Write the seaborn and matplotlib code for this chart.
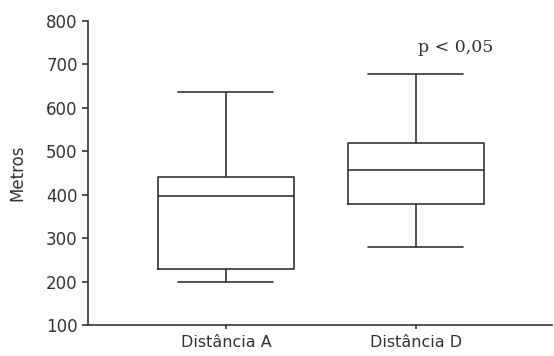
import pandas as pd
import matplotlib
matplotlib.use("Agg")
import matplotlib.pyplot as plt
import seaborn as sns

# five-number summaries (min, Q1, median, Q3, max)
grupos = ["Distância A", "Distância D"]
dist_a = [200, 230, 398, 440, 636]
dist_d = [279, 379, 458, 518, 679]
yticks = [100, 200, 300, 400, 500, 600, 700, 800]

df = pd.DataFrame({
    "grupo": [grupos[0]] * len(dist_a) + [grupos[1]] * len(dist_d),
    "metros": dist_a + dist_d,
})

sns.set_style("ticks")
plt.rcParams["font.family"] = ["DejaVu Sans"]
cor = "#333333"

fig = plt.figure(figsize=(5.54, 3.56), dpi=100)
ax = fig.add_axes([0.159, 0.087, 0.837, 0.854])

sns.boxplot(data=df, x="grupo", y="metros", ax=ax, fill=False, color=cor,
            width=0.715, whis=(0, 100), linewidth=1.2, capwidths=0.5)

ax.set_ylim(100, 800)
ax.set_xlim(-0.726, 1.716)
ax.set_yticks(yticks)
ax.set_xlabel("")
ax.set_ylabel("Metros", fontsize=12, color=cor, labelpad=14)
ax.tick_params(axis="both", labelsize=12, colors=cor, length=4, width=1.2)
ax.tick_params(axis="x", length=3, pad=4, labelsize=11.5)
for s in ["left", "bottom"]:
    ax.spines[s].set_color(cor)
    ax.spines[s].set_linewidth(1.2)
sns.despine(ax=ax)

ax.text(1.21, 740, "p < 0,05", ha="center", va="center", fontsize=12.5,
        family="DejaVu Serif", color=cor)

fig.savefig("out.png", dpi=100)
